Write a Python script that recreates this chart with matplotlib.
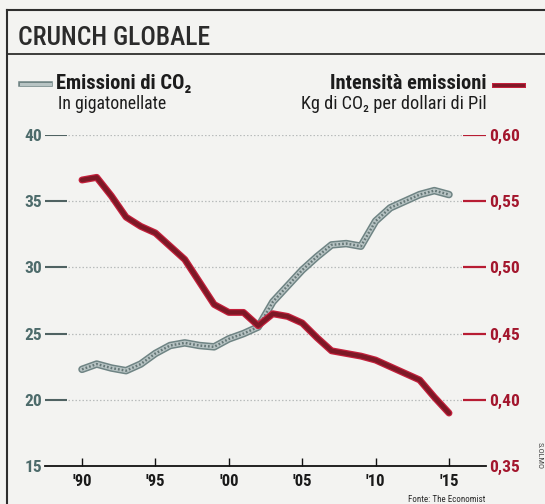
import matplotlib
matplotlib.use("Agg")
import matplotlib.pyplot as plt
from matplotlib import font_manager as fm
from matplotlib.lines import Line2D

# ---------------- data ----------------
years = list(range(1990, 2016))
emissions = [22.3, 22.7, 22.4, 22.2, 22.7, 23.5, 24.1, 24.3, 24.1, 24.0,
             24.6, 25.0, 25.5, 27.4, 28.6, 29.8, 30.8, 31.7, 31.8, 31.6,
             33.5, 34.5, 35.0, 35.5, 35.8, 35.5]
intensity = [0.566, 0.568, 0.554, 0.538, 0.531, 0.526, 0.516, 0.506, 0.489, 0.472,
             0.466, 0.466, 0.456, 0.465, 0.463, 0.458, 0.447, 0.437, 0.435, 0.433,
             0.430, 0.425, 0.420, 0.415, 0.402, 0.390]
left_ticks = [15, 20, 25, 30, 35, 40]
right_ticks = [0.35, 0.40, 0.45, 0.50, 0.55, 0.60]
right_labels = ["0,35", "0,40", "0,45", "0,50", "0,55", "0,60"]
x_ticks = [1990, 1995, 2000, 2005, 2010, 2015]
x_labels = ["'90", "'95", "'00", "'05", "'10", "'15"]

title = "CRUNCH GLOBALE"
left_name = "Emissioni di CO\u2082"
left_unit = "In gigatonellate"
right_name = "Intensità emissioni"
right_unit = "Kg di CO\u2082 per dollari di Pil"
source = "Fonte: The Economist"

# ---------------- fonts ----------------
names = {f.name for f in fm.fontManager.ttflist}
cond = None
for n in ["Liberation Sans Narrow", "Roboto Condensed", "DejaVu Sans Condensed",
          "Open Sans Condensed", "Noto Sans Condensed"]:
    if n in names:
        cond = n
        break
COND = [cond, "DejaVu Sans"] if cond else ["DejaVu Sans"]
plt.rcParams["font.family"] = ["DejaVu Sans"]

W, H = 545, 504
BG = "#f3f3f1"
fig = plt.figure(figsize=(W / 100, H / 100), dpi=100, facecolor=BG)

def fx(px):
    return px / W

def fy(py):
    return (H - py) / H

# frame lines
frame_c = "#2e2e2e"
fig.add_artist(Line2D([fx(7), 1], [fy(10), fy(10)], color=frame_c, lw=1.5))
fig.add_artist(Line2D([fx(7), 1], [fy(54), fy(54)], color=frame_c, lw=1.3))
fig.add_artist(Line2D([fx(7), fx(7)], [fy(10), 0], color=frame_c, lw=1.5))

# ---------------- axes ----------------
x_left_px, x_right_px = 45, 486
px_per_year = (449 - 82) / 25.0
xmin = 1990 - (82 - x_left_px) / px_per_year
xmax = 2015 + (x_right_px - 449) / px_per_year
ax = fig.add_axes([fx(x_left_px), fy(466), (x_right_px - x_left_px) / W, (466 - 135) / H])
ax.set_facecolor("none")
ax.set_xlim(xmin, xmax)
ax.set_ylim(15, 40)
ax2 = ax.twinx()
ax2.set_ylim(0.35, 0.60)

for a in (ax, ax2):
    for s in ["top", "left", "right"]:
        a.spines[s].set_visible(False)
ax.spines["bottom"].set_color("#111111")
ax.spines["bottom"].set_linewidth(1.3)
ax2.spines["bottom"].set_visible(False)

# gridlines: dotted middle part + coloured short dashes at both ends
g_left_end = xmin + (68 - x_left_px) / px_per_year
g_right_start = xmin + (462 - x_left_px) / px_per_year
for v in left_ticks[1:]:
    ax.plot([g_left_end, g_right_start], [v, v], color="#b9bcbc", lw=0.9,
            ls=(0, (1.2, 1.6)), zorder=1)
    ax.plot([xmin, g_left_end - 0.1], [v, v], color="#4f6262", lw=1.5,
            zorder=1, solid_capstyle="butt")
    ax.plot([g_right_start + 0.1, xmax], [v, v], color="#b71c33", lw=1.6,
            zorder=1, solid_capstyle="butt")

# emissions line (textured gray)
ax.plot(years, emissions, color="#6f8484", lw=5.4, zorder=3, solid_capstyle="round")
ax.plot(years, emissions, color="#b8c4c4", lw=3.2, zorder=3.1, solid_capstyle="round")
ax.plot(years, emissions, color="#667878", lw=1.8, ls=(0, (0.7, 0.8)), zorder=3.2)

# intensity line (dark red)
ax2.plot(years, intensity, color="#c4203c", lw=5.0, zorder=4, solid_capstyle="round")
ax2.plot(years, intensity, color="#7d1826", lw=3.2, zorder=4.1, solid_capstyle="round")

# ticks
ax.set_yticks(left_ticks)
ax.set_yticklabels([str(t) for t in left_ticks])
ax.tick_params(axis="y", length=0, pad=2)
for t in ax.get_yticklabels():
    t.set_fontweight("bold")
    t.set_fontsize(12.5)
    t.set_color("#4d6b6b")
    t.set_family(COND)

ax2.set_yticks(right_ticks)
ax2.set_yticklabels(right_labels)
ax2.tick_params(axis="y", length=0, pad=2)
for t in ax2.get_yticklabels():
    t.set_fontweight("bold")
    t.set_fontsize(12.5)
    t.set_color("#a3162d")
    t.set_family(COND)

ax.set_xticks(x_ticks)
ax.set_xticklabels(x_labels)
ax.tick_params(axis="x", direction="in", length=6, width=1, color="#111111", pad=6)
for t in ax.get_xticklabels():
    t.set_fontweight("bold")
    t.set_fontsize(12)
    t.set_color("#1a1a1a")
    t.set_family(COND)
ax2.tick_params(axis="x", length=0)

# ---------------- texts ----------------
fig.canvas.draw()
renderer = fig.canvas.get_renderer()

def fit_text(x, y, s, width_px, size, ha="left", va="baseline", **kw):
    t = fig.text(x, y, s, fontsize=size, ha=ha, va=va, **kw)
    w = t.get_window_extent(renderer).width
    t.set_fontsize(size * width_px / w)
    return t

fit_text(fx(18), fy(45), title, 192, 25, family=COND, color="#2b2b2b", fontweight="medium")

fit_text(fx(56), fy(89), left_name, 136, 14, family=COND, fontweight="bold", color="#1c1c1c")
fit_text(fx(58), fy(109), left_unit, 108, 11, family=COND, color="#1c1c1c")
fit_text(fx(487), fy(89), right_name, 158, 14, ha="right", family=COND,
         fontweight="bold", color="#1c1c1c")
fit_text(fx(487), fy(109), right_unit, 186, 11, ha="right", family=COND, color="#1c1c1c")

# legend samples
fig.add_artist(Line2D([fx(21), fx(50)], [fy(84), fy(84)], color="#6f8484", lw=4))
fig.add_artist(Line2D([fx(21), fx(50)], [fy(84), fy(84)], color="#b8c4c4", lw=2.2))
fig.add_artist(Line2D([fx(494), fx(523)], [fy(85), fy(85)], color="#c4203c", lw=3.6))
fig.add_artist(Line2D([fx(494), fx(523)], [fy(85), fy(85)], color="#7d1826", lw=2.0))

fit_text(fx(485), fy(502), source, 78, 9, ha="right", family=COND, color="#2b2b2b")
fig.text(fx(540), fy(455), "S.OLMO", fontsize=6, rotation=270, ha="center", va="center",
         family=COND, color="#444444")

fig.savefig("out.png", dpi=100, facecolor=BG)
